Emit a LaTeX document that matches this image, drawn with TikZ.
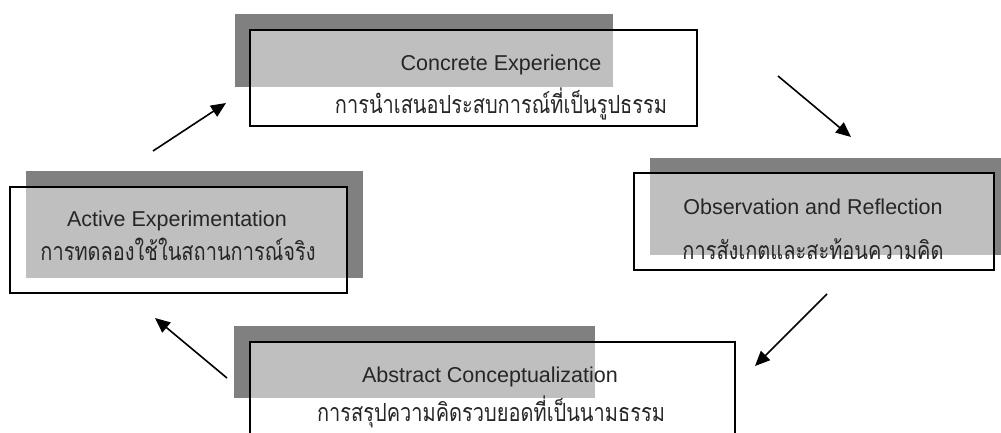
\documentclass[tikz,border=0pt]{standalone}
\usepackage{fontspec}
\setmainfont{Liberation Sans}
\newfontfamily\thaifont[Script=Thai, FakeStretch=0.8]{Loma}
\usetikzlibrary{arrows.meta}

\begin{document}
\begin{tikzpicture}[x=1pt, y=-1pt,
    shade/.style={fill=black!50},
    card/.style={draw=black, line width=1.5pt, fill=white, fill opacity=0.5, inner sep=0pt},
    en/.style={anchor=base, text=black!85, font=\fontsize{21.5}{24}\selectfont},
    th/.style={anchor=base, text=black!85, font=\thaifont\fontsize{25}{28}\selectfont},
    flow/.style={-{Triangle[length=15pt, width=13pt]}, line width=1.6pt}]
    \useasboundingbox (0,0) rectangle (1001,432);

    % shadows
    \fill [shade] (235,14) rectangle (613,87);
    \fill [shade] (650,158) rectangle (1010,255);
    \fill [shade] (26,171) rectangle (363,278);
    \fill [shade] (234,326) rectangle (595,398);

    % boxes
    \node (concrete) at (473.5,78) [card, minimum width=447pt, minimum height=96pt] {};
    \node (observe) at (814,221.5) [card, minimum width=360pt, minimum height=97pt] {};
    \node (active) at (178.5,240) [card, minimum width=337pt, minimum height=106pt] {};
    \node (abstract) at (492.5,391) [card, minimum width=485pt, minimum height=98pt] {};

    % labels
    \node (concreteEn) at (501,70) [en] {Concrete Experience};
    \node (concreteTh) at (501,113) [th] {การนำเสนอประสบการณ์ที่เป็นรูปธรรม};
    \node (observeEn) at (813,214) [en] {Observation and Reflection};
    \node (observeTh) at (813,259) [th] {การสังเกตและสะท้อนความคิด};
    \node (activeEn) at (177,226) [en] {Active Experimentation};
    \node (activeTh) at (178,260) [th] {การทดลองใช้ในสถานการณ์จริง};
    \node (abstractEn) at (490,382) [en] {Abstract Conceptualization};
    \node (abstractTh) at (491,421) [th] {การสรุปความคิดรวบยอดที่เป็นนามธรรม};

    % cycle arrows
    \coordinate (A1) at (153,151);
    \coordinate (B1) at (226,103);
    \coordinate (A2) at (778,76);
    \coordinate (B2) at (851,137);
    \coordinate (A3) at (827,294);
    \coordinate (B3) at (755,366);
    \coordinate (A4) at (227,378);
    \coordinate (B4) at (155,318);
    \draw [flow] (A1) -- (B1);
    \draw [flow] (A2) -- (B2);
    \draw [flow] (A3) -- (B3);
    \draw [flow] (A4) -- (B4);
\end{tikzpicture}
\end{document}
